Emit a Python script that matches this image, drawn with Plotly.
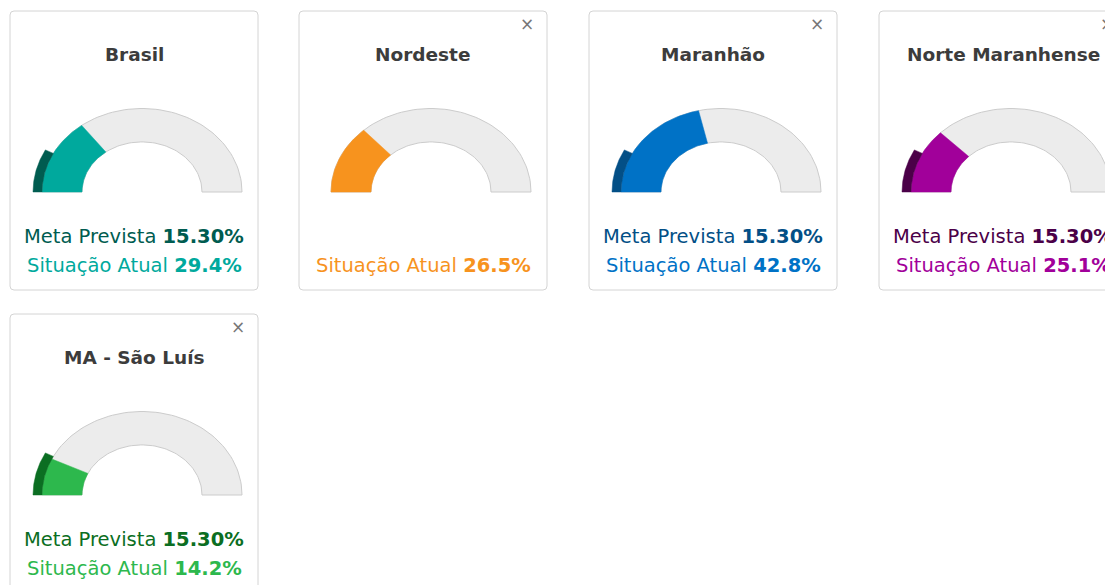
import numpy as np
import plotly.graph_objects as go

# ---- data ----
regions = ["Brasil", "Nordeste", "Maranhão", "Norte Maranhense", "MA - São Luís"]
meta_prevista = [15.30, None, 15.30, 15.30, 15.30]
situacao_atual = [29.4, 26.5, 42.8, 25.1, 14.2]
main_colors = ["#00a99d", "#f7931e", "#0072c6", "#a1009a", "#2db84d"]
dark_colors = ["#005c50", None, "#034f86", "#4b0048", "#0b6e22"]
show_close = [False, True, True, True, True]

# ---- layout ----
W, H = 1113, 585
OFF = 8            # page body margin
card_left = [10, 299, 589, 879, 10]
card_top = [11, 11, 11, 11, 314]
CW, CH = 248, 279
K = 0.835          # vertical squash of the gauge
R_IN, R_OUT, R_META = 60, 100, 109
FONT = "DejaVu Sans"
GRAY_FILL, GRAY_LINE = "#ececec", "#cccccc"


def arc(cx, cy, r0, r1, p0, p1, n=80):
    a = np.radians(180 - np.linspace(p0, p1, n) * 1.8)
    xo = cx + r1 * np.cos(a)
    yo = cy - K * r1 * np.sin(a)
    xi = cx + r0 * np.cos(a[::-1])
    yi = cy - K * r0 * np.sin(a[::-1])
    return np.concatenate([xo, xi, xo[:1]]), np.concatenate([yo, yi, yo[:1]])


def rounded(x0, y0, x1, y1, r=4):
    return (f"M{x0+r},{y0} H{x1-r} Q{x1},{y0} {x1},{y0+r} V{y1-r} Q{x1},{y1} {x1-r},{y1} "
            f"H{x0+r} Q{x0},{y1} {x0},{y1-r} V{y0+r} Q{x0},{y0} {x0+r},{y0} Z")


fig = go.Figure()
shapes, annotations = [], []

for i, name in enumerate(regions):
    x0, y0 = card_left[i], card_top[i]
    ccx = x0 + CW / 2
    gcx = x0 + 132
    gcy = y0 + 181
    shapes.append(dict(type="path", path=rounded(x0, y0, x0 + CW, y0 + CH), xref="x", yref="y",
                       line=dict(color="#d4d4d4", width=1), fillcolor="white", layer="below"))

    # background arc
    gx, gy = arc(gcx, gcy, R_IN, R_OUT, 0, 100)
    fig.add_trace(go.Scatter(x=gx, y=gy, mode="lines", fill="toself", fillcolor=GRAY_FILL,
                             line=dict(color=GRAY_LINE, width=1), hoverinfo="skip", showlegend=False))
    # current value arc
    vx, vy = arc(gcx, gcy, R_IN, R_OUT, 0, situacao_atual[i])
    fig.add_trace(go.Scatter(x=vx, y=vy, mode="lines", fill="toself", fillcolor=main_colors[i],
                             line=dict(color=main_colors[i], width=0.5), hoverinfo="skip", showlegend=False))
    # target arc
    if meta_prevista[i] is not None:
        mx, my = arc(gcx, gcy, R_OUT, R_META, 0, meta_prevista[i])
        fig.add_trace(go.Scatter(x=mx, y=my, mode="lines", fill="toself", fillcolor=dark_colors[i],
                                 line=dict(color=dark_colors[i], width=0.5), hoverinfo="skip",
                                 showlegend=False))

    annotations.append(dict(x=ccx, y=y0 + 43, xref="x", yref="y", showarrow=False,
                            text=f"<b>{name}</b>", font=dict(family=FONT, size=18.5, color="#3c3c3c")))
    if show_close[i]:
        annotations.append(dict(x=x0 + CW - 20, y=y0 + 13, xref="x", yref="y", showarrow=False,
                                text="×", font=dict(family=FONT, size=17, color="#777777")))
    if meta_prevista[i] is not None:
        annotations.append(dict(
            x=ccx, y=y0 + 225, xref="x", yref="y", showarrow=False,
            text=f"<span style='color:{dark_colors[i]}'>Meta Prevista <b>{meta_prevista[i]:.2f}%</b></span>",
            font=dict(family=FONT, size=19.5, color=dark_colors[i])))
    annotations.append(dict(
        x=ccx, y=y0 + 254, xref="x", yref="y", showarrow=False,
        text=f"<span style='color:{main_colors[i]}'>Situação Atual <b>{situacao_atual[i]:.1f}%</b></span>",
        font=dict(family=FONT, size=19.5, color=main_colors[i])))

fig.update_layout(
    width=W, height=H, margin=dict(l=0, r=0, t=0, b=0),
    paper_bgcolor="white", plot_bgcolor="white",
    xaxis=dict(range=[OFF, W + OFF], visible=False, fixedrange=True),
    yaxis=dict(range=[H + OFF, OFF], visible=False, fixedrange=True),
    shapes=shapes, annotations=annotations, showlegend=False,
)

fig.write_html("out.html")
